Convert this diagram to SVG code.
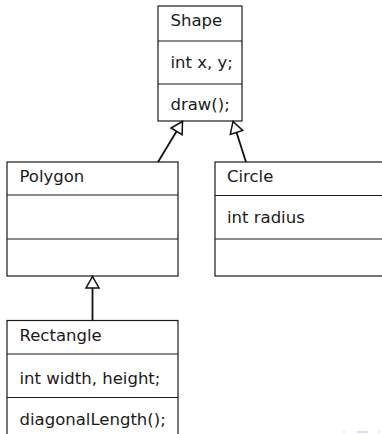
<svg xmlns="http://www.w3.org/2000/svg" width="382" height="434" viewBox="0 0 382 434">
<style>
.box{fill:#fff;stroke:#1a1a1a;stroke-width:1.2}
.sep{stroke:#1a1a1a;stroke-width:1.2}
.t{font-family:"DejaVu Sans",sans-serif;font-size:16.5px;fill:#1a1a1a}
.c{stroke:#111;stroke-width:1.8;fill:none}
</style>
<defs>
<marker id="tri" markerUnits="userSpaceOnUse" markerWidth="16" markerHeight="16" viewBox="-13 -8 15 16" refX="0" refY="0" orient="auto">
<path d="M0,0 L-11.5,-6.5 L-11.5,6.5 Z" fill="#fff" stroke="#111" stroke-width="1.5" stroke-linejoin="miter"/>
</marker>
</defs>
<rect width="382" height="434" fill="#fff"/>
<g id="Shape">
<rect class="box" x="158" y="6" width="84" height="115"/>
<line class="sep" x1="158" y1="41" x2="242" y2="41"/>
<line class="sep" x1="158" y1="84" x2="242" y2="84"/>
<text class="t" x="170.5" y="26">Shape</text>
<text class="t" x="170.5" y="68">int x, y;</text>
<text class="t" x="170.5" y="110">draw();</text>
</g>
<g id="Polygon">
<rect class="box" x="7" y="162" width="171" height="114"/>
<line class="sep" x1="7" y1="195" x2="178" y2="195"/>
<line class="sep" x1="7" y1="239" x2="178" y2="239"/>
<text class="t" x="19.5" y="182">Polygon</text>
</g>
<g id="Circle">
<rect class="box" x="215" y="162" width="172" height="114"/>
<line class="sep" x1="215" y1="195.5" x2="387" y2="195.5"/>
<line class="sep" x1="215" y1="239" x2="387" y2="239"/>
<text class="t" x="227" y="182">Circle</text>
<text class="t" x="227" y="223">int radius</text>
</g>
<g id="Rectangle">
<rect class="box" x="7" y="320.5" width="171" height="125"/>
<line class="sep" x1="7" y1="354" x2="178" y2="354"/>
<line class="sep" x1="7" y1="397.5" x2="178" y2="397.5"/>
<text class="t" x="19.5" y="341">Rectangle</text>
<text class="t" x="19.5" y="383.5">int width, height;</text>
<text class="t" x="19.5" y="425">diagonalLength();</text>
</g>
<g id="connectors">
<line class="c" x1="158" y1="162" x2="182.5" y2="121.5" marker-end="url(#tri)"/>
<line class="c" x1="246" y1="162" x2="233" y2="121.5" marker-end="url(#tri)"/>
<line class="c" x1="92.5" y1="320.5" x2="92.5" y2="276.5" marker-end="url(#tri)"/>
</g>
<g id="nav" opacity="0.35">
<rect x="357" y="431" width="11" height="2" fill="#9999dd"/>
<rect x="343" y="431" width="2" height="2" fill="#bbbbdd"/>
<rect x="378" y="431" width="2" height="2" fill="#bbbbdd"/>
</g>
</svg>
